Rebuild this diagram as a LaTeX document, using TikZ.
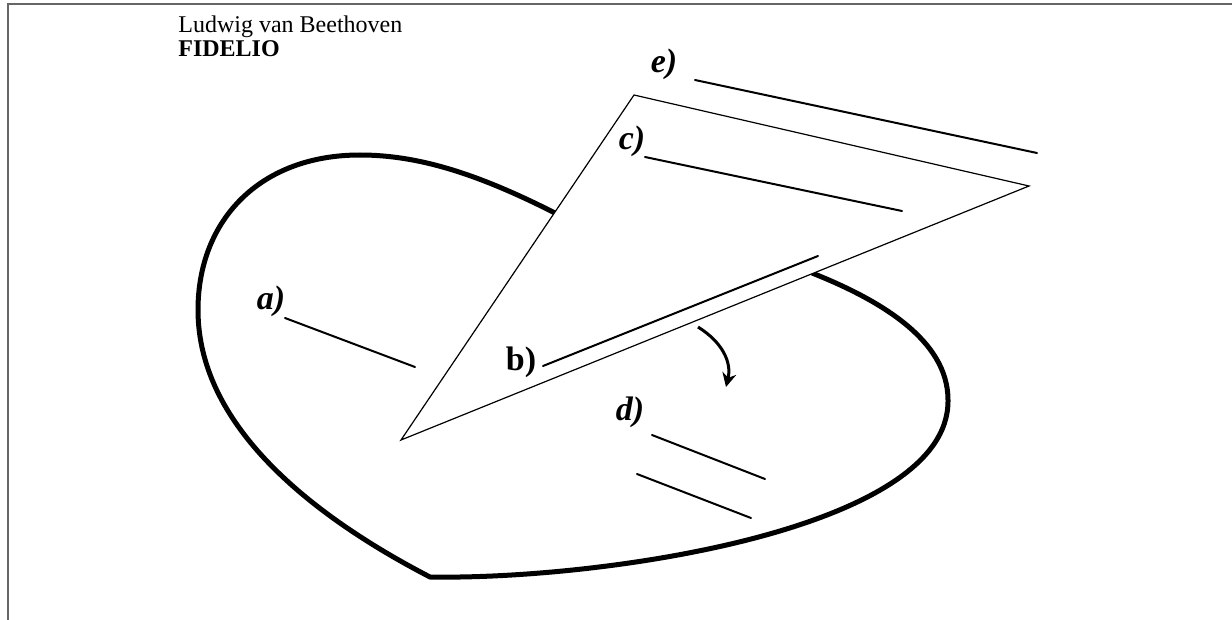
\documentclass[tikz,border=0pt]{standalone}
\usepackage{fontspec}
\setmainfont{Liberation Serif}
\usetikzlibrary{arrows.meta}
\begin{document}
\begin{tikzpicture}[x=0.5pt,y=-0.5pt,
	letra/.style={inner sep=0pt, font=\fontsize{17}{17}\selectfont\bfseries\itshape},
	raya/.style={line width=1pt, line cap=round}]
	
	\useasboundingbox (0,0) rectangle (1232,620);
	
	% Marco
	\draw[line width=1pt, black!60] (1232,4) -- (8,4) -- (8,620);
	
	% Título
	\node[anchor=base west, inner sep=0pt, font=\fontsize{12}{12}\selectfont] (autor) at (178,33) {Ludwig van Beethoven};
	\node[anchor=base west, inner sep=0pt, font=\fontsize{12}{12}\selectfont\bfseries] (obra) at (178,57) {FIDELIO};
	
	% Corazón
	\draw[line width=2.5pt, line join=miter] (812,273) .. controls (880,300) and (948,340) .. (948,400)
		.. controls (950,530) and (600,580) .. (430,577)
		.. controls (320,520) and (198,430) .. (198,310)
		.. controls (198,220) and (260,155) .. (360,155)
		.. controls (420,155) and (480,175) .. (555,213);
	
	% Triángulo
	\draw[line width=0.6pt, fill=white, line join=miter] (634,95) -- (1029,186) -- (401,440) -- cycle;
	
	% Flecha
	\draw[line width=1.5pt, -{Stealth[length=7pt,width=7pt]}] (698,327) .. controls (722,342) and (732,362) .. (726,387);
	
	% Etiquetas
	\node[letra] (a) at (271,301) {a)};
	\node[letra, font=\fontsize{17}{17}\selectfont\bfseries] (b) at (521,362) {b)};
	\node[letra] (c) at (632,141) {c)};
	\node[letra] (d) at (630,412) {d)};
	\node[letra] (e) at (664,64) {e)};
	
	% Rayas
	\draw[raya] (285,318) -- (415,367);
	\draw[raya] (543,366) -- (818,256);
	\draw[raya] (645,157) -- (902,211);
	\draw[raya] (652,435) -- (765,479);
	\draw[raya] (637,474) -- (751,518);
	\draw[raya] (695,80) -- (1037,153);
	
\end{tikzpicture}
\end{document}
